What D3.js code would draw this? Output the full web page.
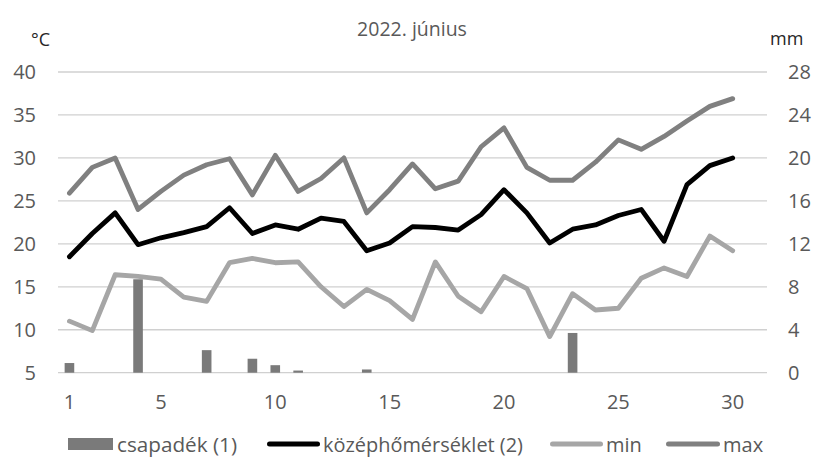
<!DOCTYPE html>
<html>
<head>
<meta charset="utf-8">
<script src="https://cdn.jsdelivr.net/npm/d3@7"></script>
<style>
  html, body { margin: 0; padding: 0; background: #fff; }
  svg text { font-family: "Open Sans", sans-serif; }
</style>
</head>
<body>
<svg id="chart" width="814" height="465"></svg>
<script>
// Daily weather, June 2022
const days = d3.range(1, 31);
const slots = d3.range(1, 32); // axis keeps one empty slot after the last day
const precip = [0.9, 0, 0, 8.7, 0, 0, 2.1, 0, 1.3, 0.7, 0.2, 0, 0, 0.3, 0,
                0, 0, 0, 0, 0, 0, 0, 3.7, 0, 0, 0, 0, 0, 0, 0];
const tMean = [18.5, 21.2, 23.6, 19.9, 20.7, 21.3, 22.0, 24.2, 21.2, 22.2,
               21.7, 23.0, 22.6, 19.2, 20.1, 22.0, 21.9, 21.6, 23.4, 26.3,
               23.6, 20.1, 21.7, 22.2, 23.3, 24.0, 20.3, 26.9, 29.1, 30.0];
const tMin = [11.0, 9.9, 16.4, 16.2, 15.9, 13.8, 13.3, 17.8, 18.3, 17.8,
              17.9, 15.0, 12.7, 14.7, 13.4, 11.2, 17.9, 13.9, 12.1, 16.2,
              14.8, 9.2, 14.2, 12.3, 12.5, 16.0, 17.2, 16.2, 20.9, 19.2];
const tMax = [25.9, 28.9, 30.0, 24.0, 26.1, 28.0, 29.2, 29.9, 25.7, 30.3,
              26.1, 27.6, 30.0, 23.6, 26.3, 29.3, 26.4, 27.3, 31.3, 33.5,
              28.9, 27.4, 27.4, 29.5, 32.1, 31.0, 32.5, 34.3, 36.0, 36.9];
const leftTicks = [5, 10, 15, 20, 25, 30, 35, 40];
const rightTicks = [0, 4, 8, 12, 16, 20, 24, 28];
const xTicks = [1, 5, 10, 15, 20, 25, 30];
const title = "2022. június";
const legendLabels = ["csapadék (1)", "középhőmérséklet (2)", "min", "max"];

const svg = d3.select("#chart");
const plot = { left: 58, right: 767, top: 72, bottom: 372.7 };

const x = d3.scaleBand().domain(slots).range([plot.left, plot.right]);
const yT = d3.scaleLinear().domain([5, 40]).range([plot.bottom, plot.top]);
const yP = d3.scaleLinear().domain([0, 28]).range([plot.bottom, plot.top]);
const cx = d => x(d) + x.bandwidth() / 2;

const tickColor = "#595959";
const fontSize = 20;

// horizontal gridlines
svg.append("g")
  .selectAll("line")
  .data(leftTicks)
  .join("line")
  .attr("x1", plot.left).attr("x2", plot.right)
  .attr("y1", d => yT(d)).attr("y2", d => yT(d))
  .attr("stroke", "#d0d0d0").attr("stroke-width", 1.3);

// left axis (°C)
const axL = svg.append("g")
  .attr("transform", `translate(${plot.left},0)`)
  .call(d3.axisLeft(yT).tickValues(leftTicks).tickSize(0).tickPadding(22));
// right axis (mm)
const axR = svg.append("g")
  .attr("transform", `translate(${plot.right},0)`)
  .call(d3.axisRight(yP).tickValues(rightTicks).tickSize(0).tickPadding(21));
// bottom axis (days)
const axB = svg.append("g")
  .attr("transform", `translate(0,${plot.bottom})`)
  .call(d3.axisBottom(x).tickValues(xTicks).tickSize(0).tickPadding(22));

[axL, axR, axB].forEach(g => {
  g.select(".domain").remove();
  g.selectAll("text")
    .attr("fill", tickColor)
    .style("font-size", fontSize + "px");
});

// precipitation bars
const barW = x.bandwidth() * 0.42;
svg.append("g")
  .selectAll("rect")
  .data(days.filter((d, i) => precip[i] > 0))
  .join("rect")
  .attr("x", d => cx(d) - barW / 2)
  .attr("width", barW)
  .attr("y", d => yP(precip[d - 1]))
  .attr("height", d => yP(0) - yP(precip[d - 1]))
  .attr("fill", "#7a7a7a");

// temperature lines
const series = [
  { values: tMin, color: "#a6a6a6" },
  { values: tMax, color: "#808080" },
  { values: tMean, color: "#000000" }
];
const line = d3.line().x((v, i) => cx(days[i])).y(v => yT(v));
svg.append("g")
  .selectAll("path")
  .data(series)
  .join("path")
  .attr("d", s => line(s.values))
  .attr("fill", "none")
  .attr("stroke", s => s.color)
  .attr("stroke-width", 4.8)
  .attr("stroke-linejoin", "round")
  .attr("stroke-linecap", "round");

// title and unit labels
svg.append("text")
  .attr("x", 412).attr("y", 28)
  .attr("text-anchor", "middle").attr("dominant-baseline", "central")
  .attr("fill", tickColor).style("font-size", "19.5px")
  .text(title);
svg.append("text")
  .attr("x", 31).attr("y", 39)
  .attr("dominant-baseline", "central")
  .attr("fill", "#262626").style("font-size", "18px")
  .text("°C");
svg.append("text")
  .attr("x", 770).attr("y", 38)
  .attr("dominant-baseline", "central")
  .attr("fill", "#262626").style("font-size", "18px")
  .text("mm");

// legend
const legendY = 444;
const legendItems = [
  { label: legendLabels[0], kind: "bar", color: "#7a7a7a", sx: 68, sw: 45, tx: 117, tw: 120 },
  { label: legendLabels[1], kind: "line", color: "#000000", sx: 267, sw: 53, tx: 323, tw: 200 },
  { label: legendLabels[2], kind: "line", color: "#a6a6a6", sx: 550, sw: 53, tx: 606, tw: null },
  { label: legendLabels[3], kind: "line", color: "#808080", sx: 666, sw: 54, tx: 723, tw: null }
];
const lg = svg.append("g");
legendItems.forEach(it => {
  if (it.kind === "bar") {
    lg.append("rect")
      .attr("x", it.sx).attr("y", legendY - 6)
      .attr("width", it.sw).attr("height", 12)
      .attr("fill", it.color);
  } else {
    lg.append("line")
      .attr("x1", it.sx + 2.5).attr("x2", it.sx + it.sw - 2.5)
      .attr("y1", legendY).attr("y2", legendY)
      .attr("stroke", it.color).attr("stroke-width", 5)
      .attr("stroke-linecap", "round");
  }
  const t = lg.append("text")
    .attr("x", it.tx).attr("y", legendY)
    .attr("dominant-baseline", "central")
    .attr("fill", tickColor).style("font-size", fontSize + "px")
    .text(it.label);
  if (it.tw) t.attr("textLength", it.tw).attr("lengthAdjust", "spacingAndGlyphs");
});
</script>
</body>
</html>
